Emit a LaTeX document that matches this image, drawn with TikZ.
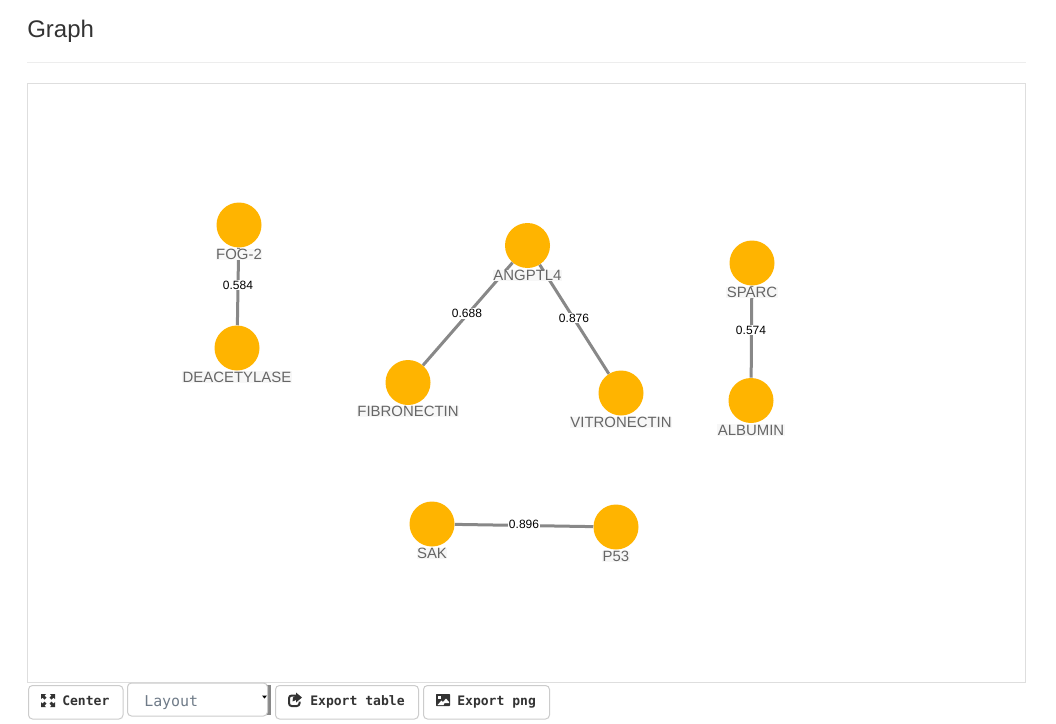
\documentclass[tikz,border=0pt]{standalone}
\usepackage{fontspec}
\setmainfont{Liberation Sans}
\newfontfamily\btnfont{DejaVu Sans Mono}
\definecolor{gold}{HTML}{FFB400}
\definecolor{edgegray}{HTML}{888888}
\definecolor{labelgray}{HTML}{666666}
\definecolor{btnborder}{HTML}{CCCCCC}
\definecolor{icondark}{HTML}{333333}
\definecolor{layoutblue}{HTML}{6F7B88}
\tikzset{
  gene/.style={circle,fill=gold,draw=none,minimum size=33.75pt,inner sep=0pt},
  genelabel/.style={font=\fontsize{11.2pt}{13pt}\selectfont,text=labelgray,fill=white!97!black,inner sep=0.4pt},
  edgeline/.style={draw=edgegray,line width=2.25pt},
  weight/.style={font=\fontsize{9pt}{11pt}\selectfont,text=black,fill=white,inner sep=0.6pt},
  btn/.style={draw=btnborder,line width=0.75pt,fill=white,rounded corners=3pt},
  btntext/.style={font=\btnfont\bfseries\fontsize{9.8pt}{11pt}\selectfont,text=icondark,inner sep=0pt,anchor=base west},
  layouttext/.style={font=\btnfont\fontsize{11.2pt}{13pt}\selectfont,text=layoutblue,inner sep=0pt,anchor=base west},
  icon/.style={draw=icondark,line width=1.5pt},
  iconfill/.style={fill=icondark,draw=none}
}
\begin{document}
\begin{tikzpicture}[x=0.75pt,y=-0.75pt]
\useasboundingbox (0,0) rectangle (1056,724);
\fill[white] (0,0) rectangle (1056,724);
\node[anchor=base west,inner sep=0pt,text=icondark,font=\fontsize{18pt}{20pt}\selectfont] (title) at (27,37.5) {Graph};
\draw[draw=black!7,line width=0.75pt] (27,62.5) -- (1026,62.5);
\draw[draw=black!13,line width=0.75pt] (27.5,83.5) rectangle (1025.5,682.5);
% nodes
\node[gene] (fog) at (239,225) {};
\node[gene] (dea) at (237,348) {};
\node[gene] (ang) at (527.5,245.5) {};
\node[gene] (fib) at (408,382.5) {};
\node[gene] (vit) at (621,393) {};
\node[gene] (spa) at (752,263) {};
\node[gene] (alb) at (751,400.5) {};
\node[gene] (sak) at (432,524) {};
\node[gene] (p53) at (616,527) {};
% edges
\draw[edgeline] (fog) -- (dea);
\draw[edgeline] (ang) -- (fib);
\draw[edgeline] (ang) -- (vit);
\draw[edgeline] (spa) -- (alb);
\draw[edgeline] (sak) -- (p53);
% labels
\node[genelabel] (lfog) at (239,254.5) {FOG-2};
\node[genelabel] (ldea) at (237,377) {DEACETYLASE};
\node[genelabel] (lang) at (527.5,275.5) {ANGPTL4};
\node[genelabel] (lfib) at (408,411.5) {FIBRONECTIN};
\node[genelabel] (lvit) at (621,422.5) {VITRONECTIN};
\node[genelabel] (lspa) at (752,292.5) {SPARC};
\node[genelabel] (lalb) at (751,430) {ALBUMIN};
\node[genelabel] (lsak) at (432,553.5) {SAK};
\node[genelabel] (lp53) at (616,556.5) {P53};
% weights
\node[weight] (w1) at (238,285) {0.584};
\node[weight] (w2) at (467,313.5) {0.688};
\node[weight] (w3) at (574,318) {0.876};
\node[weight] (w4) at (751,330) {0.574};
\node[weight] (w5) at (524,524) {0.896};
% buttons
\draw[btn] (28.5,685.5) rectangle (123,719);
\fill[edgegray] (262,685) rectangle (270.5,714.5);
\draw[btn] (127.5,683) rectangle (267.5,716);
\fill[black] (262,695.5) -- (267,695.5) -- (264.5,698.5) -- cycle;
\draw[btn] (275.5,685.5) rectangle (418.5,719);
\draw[btn] (423.5,685.5) rectangle (549.5,719);
\node[btntext] (tcenter) at (62,705.5) {Center};
\node[layouttext] (tlayout) at (144,706) {Layout};
\node[btntext] (ttable) at (310,705.5) {Export table};
\node[btntext] (tpng) at (457,705.5) {Export png};
% icon: expand
\fill[icondark] (41,694) -- (46,694) -- (44.5,695.5) -- (46.5,697.5) -- (44.5,699.5) -- (42.5,697.5) -- (41,699) -- cycle;
\fill[icondark] (55,694) -- (50,694) -- (51.5,695.5) -- (49.5,697.5) -- (51.5,699.5) -- (53.5,697.5) -- (55,699) -- cycle;
\fill[icondark] (41,707) -- (46,707) -- (44.5,705.5) -- (46.5,703.5) -- (44.5,701.5) -- (42.5,703.5) -- (41,702) -- cycle;
\fill[icondark] (55,707) -- (50,707) -- (51.5,705.5) -- (49.5,703.5) -- (51.5,701.5) -- (53.5,703.5) -- (55,702) -- cycle;
% icon: share
\draw[icon,rounded corners=2pt] (296,695.5) -- (289,695.5) -- (289,706) -- (299.5,706) -- (299.5,701.5);
\fill[icondark] (296,692.5) -- (302,697.5) -- (296,702.5) -- (296,700) -- (292.5,701.5) -- (293,697.5) -- (296,695.5) -- cycle;
% icon: picture
\fill[icondark,rounded corners=0.5pt] (436,694) rectangle (450,706);
\fill[white] (438,696) rectangle (441,699);
\fill[white] (437.5,705) -- (441.5,700.5) -- (443,702) -- (446,698.5) -- (449,702) -- (449,703) -- (444.5,703) -- (443.5,705) -- cycle;
\end{tikzpicture}
\end{document}
